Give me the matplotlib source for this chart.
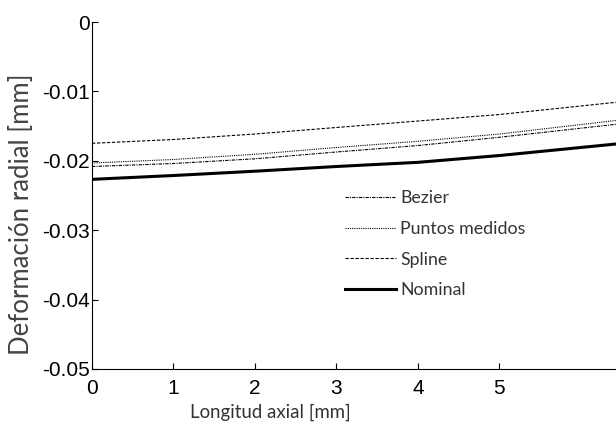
import numpy as np
import matplotlib
matplotlib.use('Agg')
import matplotlib.pyplot as plt

# valores
x = [0, 1, 2, 3, 4, 5, 6.43]
spline = [-0.01748, -0.01693, -0.01614, -0.01520, -0.01427, -0.01333, -0.01157]
puntos = [-0.02032, -0.01981, -0.01906, -0.01808, -0.01719, -0.01614, -0.01419]
bezier = [-0.02082, -0.02039, -0.01971, -0.01873, -0.01780, -0.01661, -0.01474]
nominal = [-0.02267, -0.02212, -0.02150, -0.02082, -0.02022, -0.01924, -0.01758]

xticks = [0, 1, 2, 3, 4, 5]
yticks = [0, -0.01, -0.02, -0.03, -0.04, -0.05]
yticklabels = ['0', '-0.01', '-0.02', '-0.03', '-0.04', '-0.05']

W, H = 616, 425
fig = plt.figure(figsize=(W / 100, H / 100), dpi=100)
ax = fig.add_axes([92 / W, 1 - 369 / H, 1 - 92 / W, (369 - 22) / H])

ax.plot(x, bezier, color='black', lw=0.8, linestyle=(0, (3, 1, 1, 1)), label='Bezier')
ax.plot(x, puntos, color='black', lw=0.8, linestyle=(0, (1, 1)), label='Puntos medidos')
ax.plot(x, spline, color='black', lw=0.8, linestyle=(0, (3, 1.5)), label='Spline')
ax.plot(x, nominal, color='black', lw=2.2, linestyle='-', label='Nominal')

ax.set_xlim(0, 6.43)
ax.set_ylim(-0.05, 0)
ax.set_xticks(xticks)
ax.set_xticklabels([str(t) for t in xticks], fontsize=15, family='Liberation Sans')
ax.set_yticks(yticks)
ax.set_yticklabels(yticklabels, fontsize=15, family='Liberation Sans')
ax.tick_params(direction='in', length=4, width=0.8)
ax.tick_params(axis='x', pad=7)
ax.tick_params(axis='y', pad=1.5)
ax.spines['top'].set_visible(False)
ax.spines['right'].set_visible(False)

fig.text(270 / W, 1 - 412 / H, 'Longitud axial [mm]', ha='center', va='center',
         fontsize=13.4, family='Lato', color='#333333')
fig.text(22 / W, 1 - 214 / H, 'Deformación radial [mm]', ha='center', va='center',
         rotation=90, fontsize=18.5, family='Lato', color='#444444')

leg = ax.legend(loc='upper left', bbox_to_anchor=(329 / W, 1 - 174 / H),
                bbox_transform=fig.transFigure, frameon=False,
                prop={'family': 'Lato', 'size': 12.8},
                handlelength=2.87, handletextpad=0.22, labelspacing=0.83)
for t in leg.get_texts():
    t.set_color('#333333')

fig.savefig('out.png', dpi=100)
